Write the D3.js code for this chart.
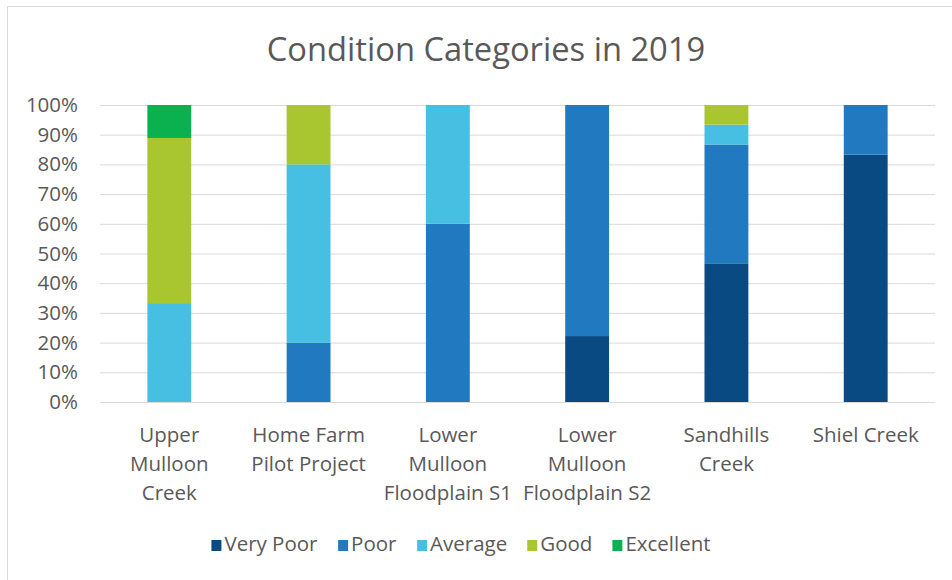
<!DOCTYPE html>
<html>
<head>
<meta charset="utf-8">
<script src="https://d3js.org/d3.v7.min.js"></script>
<style>
  body { margin: 0; background: #fff; }
  text { font-family: "Open Sans", sans-serif; fill: #595959; }
</style>
</head>
<body>
<svg id="chart" width="952" height="580"></svg>
<script>
// sites and share of each condition category (percent)
const sites = ['Upper Mulloon Creek', 'Home Farm Pilot Project', 'Lower Mulloon Floodplain S1',
  'Lower Mulloon Floodplain S2', 'Sandhills Creek', 'Shiel Creek'];
const categories = ['Very Poor', 'Poor', 'Average', 'Good', 'Excellent'];
const veryPoor  = [0, 0, 0, 22.2, 46.7, 83.3];
const poor      = [0, 20, 60, 77.8, 40, 16.7];
const average   = [33.3, 60, 40, 0, 6.7, 0];
const good      = [55.6, 20, 0, 0, 6.6, 0];
const excellent = [11.1, 0, 0, 0, 0, 0];
const yTicks = [0, 10, 20, 30, 40, 50, 60, 70, 80, 90, 100];
const colors = ['#0a4a82', '#2179c0', '#47bfe2', '#a9c530', '#0cb14f'];

const series = [veryPoor, poor, average, good, excellent];
const rows = sites.map((s, i) => {
  const r = { site: s };
  categories.forEach((c, j) => r[c] = series[j][i]);
  return r;
});

const svg = d3.select('#chart');
const margin = { top: 105, left: 100, right: 17, bottom: 178 },
  width = 952 - margin.left - margin.right,
  height = 580 - margin.top - margin.bottom;

// outer chart border (cropped at right/bottom in the picture)
svg.append('rect')
  .attr('x', 7.5).attr('y', 6.5)
  .attr('width', 990).attr('height', 620)
  .attr('fill', 'none').attr('stroke', '#d9d9d9');

svg.append('text')
  .attr('x', 486).attr('y', 61)
  .attr('text-anchor', 'middle')
  .style('font-size', '32.7px')
  .text('Condition Categories in 2019');

const g = svg.append('g').attr('transform', `translate(${margin.left},${margin.top})`);

const x = d3.scaleBand().domain(sites).range([0, width]).paddingInner(0.685).paddingOuter(0.34);
const y = d3.scaleLinear().domain([0, 100]).range([height, 0]);

// gridlines
g.append('g')
  .selectAll('line')
  .data(yTicks)
  .join('line')
  .attr('x1', 0).attr('x2', width)
  .attr('y1', d => y(d) + 0.5).attr('y2', d => y(d) + 0.5)
  .attr('stroke', '#d9d9d9');

// y axis labels
const yAxis = g.append('g')
  .call(d3.axisLeft(y).tickValues(yTicks).tickFormat(d => d + '%').tickSize(0).tickPadding(22));
yAxis.select('.domain').remove();
yAxis.selectAll('text').style('font-size', '20.5px').attr('fill', '#595959');

// stacked bars
const stacked = d3.stack().keys(categories)(rows);
g.append('g')
  .selectAll('g')
  .data(stacked)
  .join('g')
  .attr('fill', (d, i) => colors[i])
  .selectAll('rect')
  .data(d => d)
  .join('rect')
  .attr('x', d => x(d.data.site))
  .attr('width', x.bandwidth())
  .attr('y', d => y(d[1]))
  .attr('height', d => y(d[0]) - y(d[1]));

// x axis labels, wrapped into the band
const xAxis = g.append('g')
  .attr('transform', `translate(0,${height})`)
  .call(d3.axisBottom(x).tickSize(0).tickPadding(0));
xAxis.select('.domain').remove();
xAxis.selectAll('text')
  .style('font-size', '20.5px')
  .attr('fill', '#595959')
  .each(function (d) {
    const t = d3.select(this);
    const words = d.split(' ');
    t.text(null);
    const lines = [];
    let cur = [];
    const probe = t.append('tspan');
    words.forEach(w => {
      const trial = cur.concat(w).join(' ');
      probe.text(trial);
      if (probe.node().getComputedTextLength() > x.step() - 8 && cur.length) {
        lines.push(cur.join(' '));
        cur = [w];
      } else {
        cur.push(w);
      }
    });
    lines.push(cur.join(' '));
    probe.remove();
    t.attr('dy', null).attr('y', 0);
    lines.forEach((l, i) => {
      t.append('tspan').attr('x', 0).attr('y', 40 + i * 29).text(l);
    });
  });

// legend
const legend = svg.append('g').attr('transform', 'translate(0,551)');
const items = legend.selectAll('g').data(categories).join('g');
items.append('rect')
  .attr('y', -11).attr('width', 10).attr('height', 11)
  .attr('fill', (d, i) => colors[i]);
items.append('text')
  .attr('x', 13).attr('y', 0)
  .style('font-size', '20.5px')
  .text(d => d);
let offs = 0;
const widths = [];
items.each(function () {
  widths.push(this.getBBox().width);
});
const gap = 20;
const total = d3.sum(widths) + gap * (widths.length - 1);
offs = 461 - total / 2;
items.attr('transform', (d, i) => {
  const tx = offs;
  offs += widths[i] + gap;
  return `translate(${tx},0)`;
});
</script>
</body>
</html>
